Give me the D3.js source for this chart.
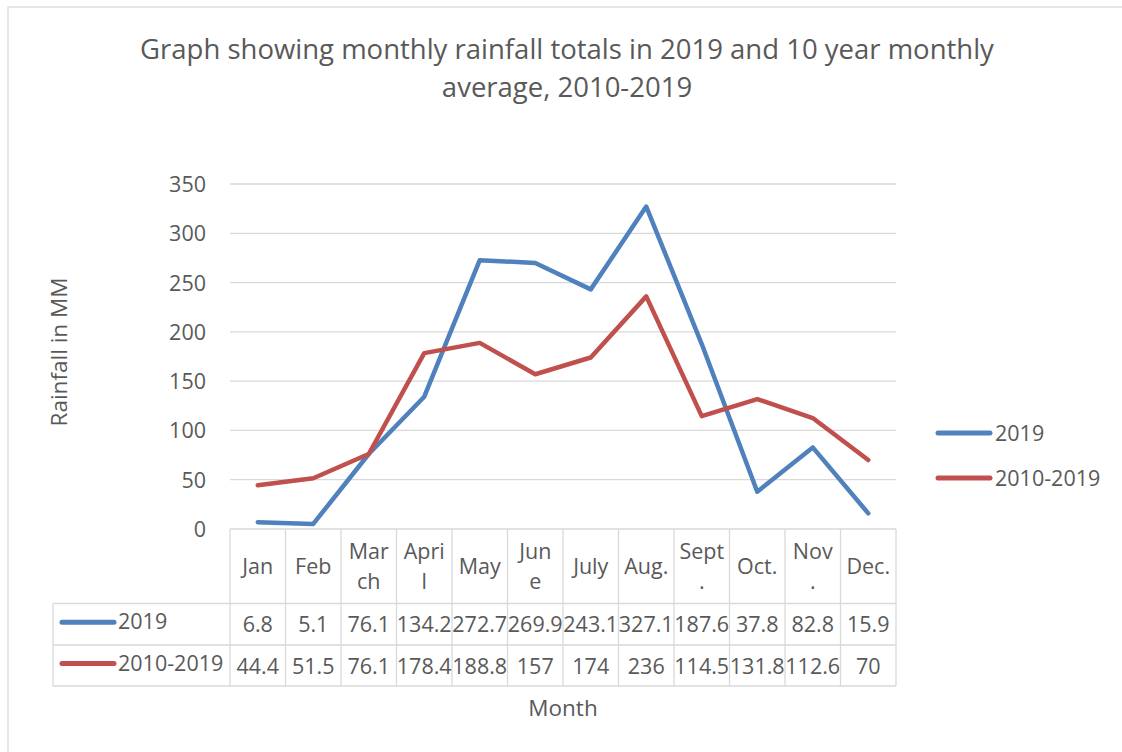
<!DOCTYPE html>
<html>
<head>
<meta charset="utf-8">
<script src="https://cdn.jsdelivr.net/npm/d3@7"></script>
<style>
  body { margin: 0; background: #fff; }
  svg text { font-family: "Open Sans", sans-serif; fill: #595959; }
</style>
</head>
<body>
<svg></svg>
<script>
const width = 1122;
const height = 752;

const months = ["Jan", "Feb", "March", "April", "May", "June", "July", "Aug.", "Sept.", "Oct.", "Nov.", "Dec."];
// header cells as they wrap in the table
const monthLabels = ["Jan", "Feb", "Mar|ch", "Apri|l", "May", "Jun|e", "July", "Aug.", "Sept|.", "Oct.", "Nov|.", "Dec."];
const rain2019 = [6.8, 5.1, 76.1, 134.2, 272.7, 269.9, 243.1, 327.1, 187.6, 37.8, 82.8, 15.9];
const rainAvg = [44.4, 51.5, 76.1, 178.4, 188.8, 157, 174, 236, 114.5, 131.8, 112.6, 70];
const yTicks = [0, 50, 100, 150, 200, 250, 300, 350];
const seriesNames = ["2019", "2010-2019"];
const colors = ["#4F81BD", "#C0504D"];

const series = [rain2019, rainAvg];

const svg = d3.select('svg')
    .attr('width', width).attr('height', height);

const plot = {left: 230, right: 896, top: 184, bottom: 529};
const rowBottoms = [603.5, 645, 686];
const tableLeft = 53;
const grid = '#d9d9d9';
const fs = '21.5px';

// chart frame
svg.append('rect')
    .attr('x', 8).attr('y', 7)
    .attr('width', 1130).attr('height', 760)
    .style('fill', 'none').style('stroke', grid).style('stroke-width', 1.3);

const x = d3.scaleBand().domain(months).range([plot.left, plot.right]);
const y = d3.scaleLinear().domain([0, 350]).range([plot.bottom, plot.top]);

// title
const title = svg.append('text')
    .attr('text-anchor', 'middle')
    .style('font-size', '27.5px');
title.append('tspan').attr('x', 567).attr('y', 59)
    .text('Graph showing monthly rainfall totals in 2019 and 10 year monthly');
title.append('tspan').attr('x', 567).attr('y', 97)
    .text('average, 2010-2019');

// gridlines + y tick labels
svg.append('g').selectAll('line')
    .data(yTicks)
    .enter().append('line')
    .attr('x1', plot.left).attr('x2', plot.right)
    .attr('y1', d => y(d)).attr('y2', d => y(d))
    .style('stroke', grid).style('stroke-width', 1.3);

svg.append('g').selectAll('text')
    .data(yTicks)
    .enter().append('text')
    .attr('x', 206).attr('y', d => y(d) + 8)
    .attr('text-anchor', 'end')
    .style('font-size', fs)
    .text(d => d);

// y axis title
svg.append('text')
    .attr('transform', 'translate(67,352) rotate(-90)')
    .attr('text-anchor', 'middle')
    .style('font-size', '22.5px')
    .text('Rainfall in MM');

// data table borders
const tbl = svg.append('g').style('stroke', grid).style('stroke-width', 1.3);
const colEdges = months.map(m => x(m)).concat([plot.right]);
tbl.selectAll('.vline')
    .data(colEdges)
    .enter().append('line')
    .attr('x1', d => d).attr('x2', d => d)
    .attr('y1', plot.bottom).attr('y2', rowBottoms[2]);
tbl.selectAll('.hline')
    .data(rowBottoms)
    .enter().append('line')
    .attr('x1', tableLeft).attr('x2', plot.right)
    .attr('y1', d => d).attr('y2', d => d);
tbl.append('line')
    .attr('x1', tableLeft).attr('x2', tableLeft)
    .attr('y1', rowBottoms[0]).attr('y2', rowBottoms[2]);

// header labels
const midHeader = (plot.bottom + rowBottoms[0]) / 2 + 8;
svg.append('g').selectAll('text')
    .data(monthLabels)
    .enter().append('text')
    .attr('text-anchor', 'middle')
    .style('font-size', fs)
    .each(function(d, i) {
      const lines = d.split('|');
      const cx = x(months[i]) + x.bandwidth() / 2;
      d3.select(this).selectAll('tspan')
          .data(lines)
          .enter().append('tspan')
          .attr('x', cx)
          .attr('y', (ln, j) => midHeader + (j - (lines.length - 1) / 2) * 30)
          .text(ln => ln);
    });

// table rows
series.forEach((vals, si) => {
  const rowMid = (rowBottoms[si] + rowBottoms[si + 1]) / 2;
  svg.append('line')
      .attr('x1', 62).attr('x2', 114)
      .attr('y1', rowMid - 2).attr('y2', rowMid - 2)
      .style('stroke', colors[si]).style('stroke-width', 5)
      .style('stroke-linecap', 'round');
  svg.append('text')
      .attr('x', 118).attr('y', rowMid + 5)
      .style('font-size', fs)
      .text(seriesNames[si]);
  svg.append('g').selectAll('text')
      .data(vals)
      .enter().append('text')
      .attr('x', (d, i) => x(months[i]) + x.bandwidth() / 2)
      .attr('y', rowMid + 8)
      .attr('text-anchor', 'middle')
      .style('font-size', fs)
      .text(d => d);
});

// x axis title
svg.append('text')
    .attr('x', 563).attr('y', 716)
    .attr('text-anchor', 'middle')
    .style('font-size', '22.5px')
    .text('Month');

// lines
const line = d3.line()
    .x((d, i) => x(months[i]) + x.bandwidth() / 2)
    .y(d => y(d));

series.forEach((vals, si) => {
  svg.append('path')
      .datum(vals)
      .attr('d', line)
      .style('fill', 'none')
      .style('stroke', colors[si])
      .style('stroke-width', 4.5)
      .style('stroke-linejoin', 'round')
      .style('stroke-linecap', 'round');
});

// right legend
const legendY = [433, 478];
seriesNames.forEach((name, i) => {
  svg.append('line')
      .attr('x1', 938).attr('x2', 990)
      .attr('y1', legendY[i]).attr('y2', legendY[i])
      .style('stroke', colors[i]).style('stroke-width', 5)
      .style('stroke-linecap', 'round');
  svg.append('text')
      .attr('x', 995).attr('y', legendY[i] + 8)
      .style('font-size', fs)
      .text(name);
});
</script>
</body>
</html>
